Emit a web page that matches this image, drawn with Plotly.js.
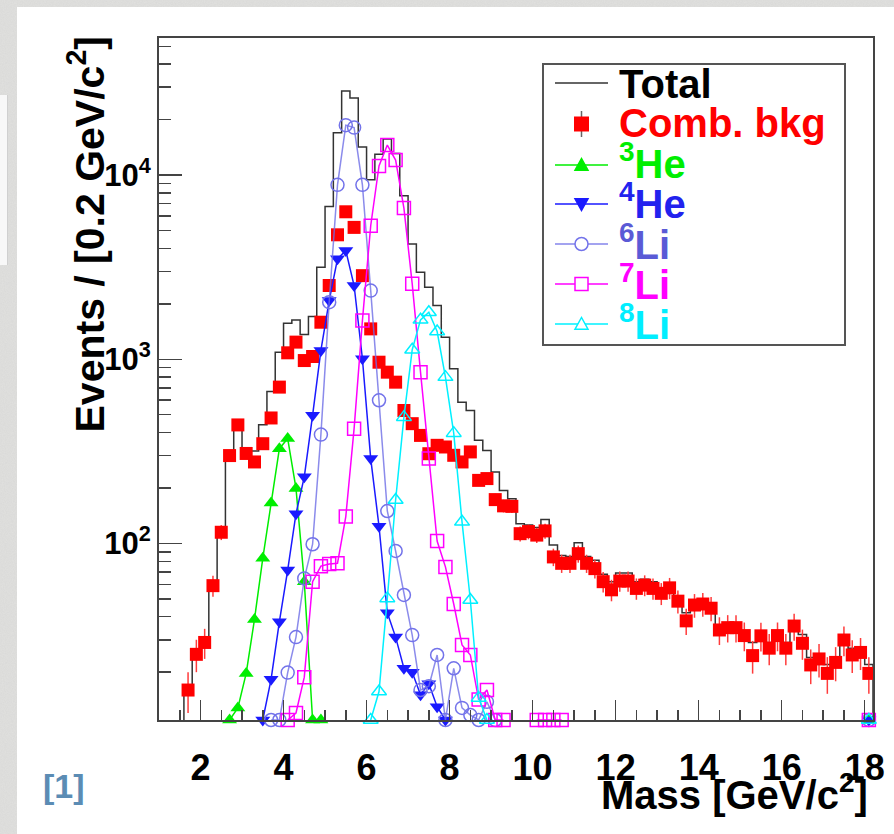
<!DOCTYPE html>
<html><head><meta charset="utf-8">
<script src="https://cdn.plot.ly/plotly-3.0.1.min.js"></script>
<style>
html,body{margin:0;padding:0;}
body{width:894px;height:834px;position:relative;overflow:hidden;background:#e1e1df;}
#tex{position:absolute;left:0;top:0;width:894px;height:834px;background-image:url("data:image/svg+xml;utf8,<svg xmlns='http://www.w3.org/2000/svg' width='200' height='200'><filter id='n'><feTurbulence type='fractalNoise' baseFrequency='0.9' numOctaves='2'/><feColorMatrix values='0 0 0 0 0.5  0 0 0 0 0.5  0 0 0 0 0.5  0 0 0 0.22 0'/></filter><rect width='200' height='200' filter='url(%23n)'/></svg>");}
#panel{position:absolute;left:17px;top:7px;right:0;bottom:0;background:#fff;}
#side{position:absolute;left:0;top:95px;width:7px;height:170px;background:#f8f8f8;border-right:1px solid #d0d0d0;}
#chart{position:absolute;left:0;top:0;width:894px;height:834px;}
</style>
</head><body>
<div id="tex"></div><div id="panel"></div><div id="side"></div>
<div id="chart"></div>
<script>
// ---------------- data ----------------
// bin centres of 0.2 GeV/c^2 bins
const massBins = [1.7,1.9,2.1,2.3,2.5,2.7,2.9,3.1,3.3,3.5,3.7,3.9,4.1,4.3,4.5,4.7,4.9,5.1,5.3,5.5,
  5.7,5.9,6.1,6.3,6.5,6.7,6.9,7.1,7.3,7.5,7.7,7.9,8.1,8.3,8.5,8.7,8.9,9.1,9.3,9.5,9.7,9.9,10.1,10.3,
  10.5,10.7,10.9,11.1,11.3,11.5,11.7,11.9,12.1,12.3,12.5,12.7,12.9,13.1,13.3,13.5,13.7,13.9,14.1,
  14.3,14.5,14.7,14.9,15.1,15.3,15.5,15.7,15.9,16.1,16.3,16.5,16.7,16.9,17.1,17.3,17.5,17.7,17.9,18.1];

const totalEvents = [17,26,30,61,118, 313,450,327,318,441, 668,1090,1570,1636,1362,
  1706,3155,6760,17000,28600, 26200,14200,9440,12970,15700, 13100,7730,4230,2965,2460,
  1958,1318,889,585,527, 363,320,244,194,
  175,128,126,122,135, 98,86,85,101,85, 81,68,62,69,69, 62,64,62,57,60,
  51,42,48,49,46, 36,36,36,33,29, 33,29,33,29,37, 32,24,25,22,24, 31,27,27,22];

const bkgEvents = [16,25,29,59,115, 300,440,308,277,348, 480,706,1084,1239,984,
  1035,1589,2514,4740,6320, 5200,2844,1462,964,851, 751,527,447,386,307,
  341,334,301,277,314, 220,225,173,160,
  159,113,116,111,117, 84.5,78,78,88,78, 73,62,56,62.5,62.5, 57,59.4,57,53.6,57.4,
  48.6,38,46.3,46.9,44.5, 33.9,34.9,34.9,31.6,24.6, 31.5,27,31.6,27,35.6,
  28.7,21.9,23.6,19.7,22.6, 29.9,24.8,25.6,19.7];

// empty neighbour bins of the histogram (below the log floor)
const emptyBinMass = [1.5, 18.3];
const emptyBinEvents = 1;

const he3Mass   = [2.7,2.9,3.1,3.3,3.5,3.7,3.9,4.1,4.3,4.5,4.7,4.9,5.1,18.1];
const he3Events = [11,12.8,19.7,38.7,83,166,327,371,199,62,11,11,null,11];

const he4Mass   = [3.5,3.7,3.9,4.1,4.3,4.5,4.7,4.9,5.1,5.3,5.5,5.7,5.9,6.1,6.3,6.5,6.7,6.9,7.1,7.3,7.5,7.7,7.9,8.1,18.1];
const he4Events = [11,18.3,37.6,71.7,145,230,496,1117,2084,3510,3890,2514,1007,289,124,42,31,21,20,15.1,17.3,13,11,null,11];

const li6Mass   = [3.7,3.9,4.1,4.3,4.5,4.7,4.9,5.1,5.3,5.5,5.7,5.9,6.1,6.3,6.5,6.7,6.9,7.1,7.3,7.5,7.7,7.9,8.1,8.3,8.5,8.7,8.9,9.1,9.3,18.1];
const li6Events = [11,11,19.9,31,64.6,99,390,2042,8850,18660,18100,8850,2360,599,150,91,52.5,31.8,16,16.8,24.8,11,21,12.8,11.7,11,13.8,11,null,11];

const li7Mass   = [4.1,4.3,4.5,4.7,4.9,5.1,5.3,5.5,5.7,5.9,6.1,6.3,6.5,6.7,6.9,7.1,7.3,7.5,7.7,7.9,8.1,8.3,8.5,8.7,8.9,9.1,9.3,9.5,10.1,10.3,10.5,10.7,10.9,18.1];
const li7Events = [11,12,18.8,62,75.3,77.3,78,140,420,1622,5310,11220,14560,12060,6620,2567,851,289,103,74.6,46.9,28.1,24.8,14.2,16,11,11,null,11,11,11,11,null,11];

const li8Mass   = [6.1,6.3,6.5,6.7,6.9,7.1,7.3,7.5,7.7,7.9,8.1,8.3,8.5,8.7,8.9,9.1,18.1];
const li8Events = [11,15.7,50.3,172,485,1127,1637,1799,1415,800,397,131,49.3,14.5,11,null,11];

const xTickVals = [2,4,6,8,10,12,14,16,18];
const yTickVals = [100,1000,10000];
const yTickText = ['10<sup>2</sup>','10<sup>3</sup>','10<sup>4</sup>'];

const legendLabels = ['Total','Comb. bkg','<sup>3</sup>He','<sup>4</sup>He','<sup>6</sup>Li','<sup>7</sup>Li','<sup>8</sup>Li'];
const legendTextColors = ['#000000','#ff0000','#00ee00','#2222ee','#5a5ad6','#ff00ff','#00eeff'];

// ---------------- styling ----------------
const FONT = 'Liberation Sans, Arial, Helvetica, sans-serif';
const C = {he3:'#00ee00', he4:'#1a1aff', li6:'#7373ea', li7:'#ff00ff', li8:'#00f0ff', bkg:'#ff0000', tot:'#333333'};

const traces = [
  {x:[emptyBinMass[0], ...massBins, emptyBinMass[1]], y:[emptyBinEvents, ...totalEvents, emptyBinEvents],
   mode:'lines', line:{shape:'hvh', color:C.tot, width:1.5}, name:'Total', hoverinfo:'x+y'},
  {x:massBins, y:bkgEvents, mode:'markers', name:'Comb. bkg',
   marker:{symbol:'square', size:13, color:C.bkg},
   error_y:{type:'sqrt', color:'#ff3b3b', thickness:1.5, width:0}},
  {x:he3Mass, y:he3Events, name:'3He', mode:'lines+markers', cliponaxis:false, connectgaps:false,
   line:{color:C.he3, width:1.5}, marker:{symbol:'triangle-up', size:13, color:C.he3}},
  {x:he4Mass, y:he4Events, name:'4He', mode:'lines+markers', cliponaxis:false, connectgaps:false,
   line:{color:C.he4, width:1.5}, marker:{symbol:'triangle-down', size:13, color:C.he4}},
  {x:li6Mass, y:li6Events, name:'6Li', mode:'lines+markers', cliponaxis:false, connectgaps:false,
   line:{color:'rgba(110,110,230,0.8)', width:1.5},
   marker:{symbol:'circle-open', size:13, color:C.li6, line:{width:1.5, color:C.li6}}},
  {x:li7Mass, y:li7Events, name:'7Li', mode:'lines+markers', cliponaxis:false, connectgaps:false,
   line:{color:C.li7, width:1.5},
   marker:{symbol:'square-open', size:13, color:C.li7, line:{width:1.5, color:C.li7}}},
  {x:li8Mass, y:li8Events, name:'8Li', mode:'lines+markers', cliponaxis:false, connectgaps:false,
   line:{color:C.li8, width:1.5},
   marker:{symbol:'triangle-up-open', size:13, color:C.li8, line:{width:1.5, color:C.li8}}}
];

// pixel -> paper helpers (plot area 159..873 x 38..720)
const L=159, R=873, T=38, B=720;
const PX = x => (x-L)/(R-L);
const PY = y => (B-y)/(B-T);

const minorY = [];
for (let d=10; d<=10000; d*=10) for (let k=2; k<=9; k++) minorY.push(k*d);

const shapes = [];
const annotations = [];

// legend box
shapes.push({type:'rect', xref:'paper', yref:'paper', x0:PX(543), x1:PX(845), y0:PY(345), y1:PY(64),
  line:{color:'#555', width:2}, fillcolor:'#ffffff', layer:'above'});
const rowY = [83, 124, 165, 204, 244, 284, 324];
const baseY = [98, 137, 178, 218, 259, 299, 339];
const mx = 581.5, lx0 = 555, lx1 = 608;
const lineColors = [C.tot, null, C.he3, C.he4, 'rgba(110,110,230,0.85)', C.li7, C.li8];
rowY.forEach((y,i)=>{
  if (lineColors[i]) shapes.push({type:'line', xref:'paper', yref:'paper', x0:PX(lx0), x1:PX(lx1), y0:PY(y), y1:PY(y),
    line:{color:lineColors[i], width:1.5}, layer:'above'});
});
// bkg marker with error line
shapes.push({type:'line', xref:'paper', yref:'paper', x0:PX(mx), x1:PX(mx), y0:PY(111), y1:PY(137), line:{color:'#666', width:1.5}, layer:'above'});
shapes.push({type:'rect', xref:'paper', yref:'paper', x0:PX(mx-7.5), x1:PX(mx+7.5), y0:PY(rowY[1]+7.5), y1:PY(rowY[1]-7.5),
  line:{width:0}, fillcolor:C.bkg, layer:'above'});
function tri(cx, cy, up, fill, stroke){
  const h=6.5, w=6.5;
  const p = up ? `M ${PX(cx-w)} ${PY(cy+h*0.8)} L ${PX(cx+w)} ${PY(cy+h*0.8)} L ${PX(cx)} ${PY(cy-h)} Z`
               : `M ${PX(cx-w)} ${PY(cy-h*0.8)} L ${PX(cx+w)} ${PY(cy-h*0.8)} L ${PX(cx)} ${PY(cy+h)} Z`;
  return {type:'path', xref:'paper', yref:'paper', path:p, fillcolor:fill, line:{color:stroke, width:1.5}, layer:'above'};
}
shapes.push(tri(mx, rowY[2], true, C.he3, C.he3));
shapes.push(tri(mx, rowY[3], false, C.he4, C.he4));
shapes.push({type:'circle', xref:'paper', yref:'paper', x0:PX(mx-6.5), x1:PX(mx+6.5), y0:PY(rowY[4]+6.5), y1:PY(rowY[4]-6.5),
  line:{color:C.li6, width:1.5}, fillcolor:'#ffffff', layer:'above'});
shapes.push({type:'rect', xref:'paper', yref:'paper', x0:PX(mx-6.5), x1:PX(mx+6.5), y0:PY(rowY[5]+6.5), y1:PY(rowY[5]-6.5),
  line:{color:C.li7, width:1.5}, fillcolor:'#ffffff', layer:'above'});
shapes.push(tri(mx, rowY[6], true, '#ffffff', C.li8));

legendLabels.forEach((t,i)=>{
  annotations.push({xref:'paper', yref:'paper', x:PX(617), y:PY(baseY[i]+10), xanchor:'left', yanchor:'bottom',
    text:t, showarrow:false, font:{family:FONT, size:40, weight:'bold', color:legendTextColors[i]}});
});

// axis titles and reference mark
annotations.push({xref:'paper', yref:'paper', x:PX(870), y:PY(819), xanchor:'right', yanchor:'bottom',
  text:'Mass [GeV/c<sup>2</sup>]', showarrow:false, font:{family:FONT, size:40, weight:'bold', color:'#000'}});
annotations.push({xref:'paper', yref:'paper', x:PX(86), y:PY(34), xanchor:'center', yanchor:'top', textangle:-90,
  text:'Events / [0.2 GeV/c<sup>2</sup>]', showarrow:false, font:{family:FONT, size:41, weight:'bold', color:'#000'}});
annotations.push({xref:'paper', yref:'paper', x:PX(64), y:PY(786), xanchor:'center', yanchor:'middle',
  text:'[1]', showarrow:false, font:{family:FONT, size:34, weight:'bold', color:'#5b8cb4'}});

const axisCommon = {ticks:'inside', tickwidth:1.5, tickcolor:'#444', showline:true, mirror:true, linecolor:'#444',
  linewidth:2, showgrid:false, zeroline:false};

const layout = {
  width:894, height:834,
  margin:{l:L, r:894-R, t:T, b:834-B, pad:0},
  paper_bgcolor:'rgba(0,0,0,0)', plot_bgcolor:'#ffffff',
  showlegend:false,
  font:{family:FONT, color:'#000'},
  xaxis:Object.assign({}, axisCommon, {range:[1,18.2], tickmode:'array', tickvals:xTickVals, ticklen:20,
    tickfont:{family:FONT, size:36, weight:'bold', color:'#000'}, ticklabelstandoff:15,
    minor:{dtick:0.5, tick0:0, ticks:'inside', ticklen:10, tickwidth:1.5, tickcolor:'#444', showgrid:false}}),
  yaxis:Object.assign({}, axisCommon, {type:'log', range:[Math.log10(11), Math.log10(55500)], tickmode:'array',
    tickvals:yTickVals, ticktext:yTickText, ticklen:23,
    tickfont:{family:FONT, size:31, weight:'bold', color:'#000'}, ticklabelstandoff:0,
    minor:{tickmode:'array', tickvals:minorY, ticks:'inside', ticklen:12, tickwidth:1.5, tickcolor:'#444', showgrid:false}}),
  shapes:shapes,
  annotations:annotations
};

Plotly.newPlot('chart', traces, layout, {displayModeBar:false, staticPlot:true});
</script>
</body></html>
